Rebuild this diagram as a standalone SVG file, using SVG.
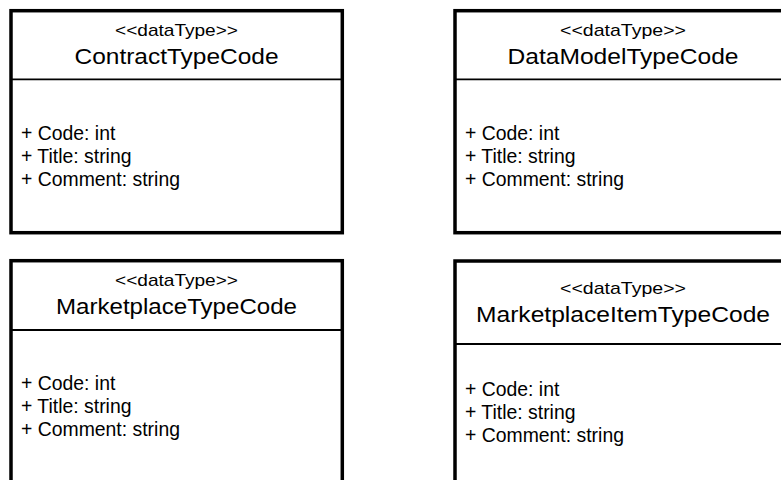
<svg xmlns="http://www.w3.org/2000/svg" width="781" height="480" viewBox="0 0 781 480">
<style>
.box{fill:#fff;stroke:#000;stroke-width:3.5}
.div{stroke:#000;stroke-width:1.8}
text{font-family:"Liberation Sans",Arial,sans-serif;fill:#000}
.st{font-size:17px;text-anchor:middle}
.ti{font-size:22px;text-anchor:middle}
.at{font-size:19.4px}
</style>
<rect width="781" height="480" fill="#fff"/>
<g id="ContractTypeCode">
<rect class="box" x="11" y="10.7" width="331.3" height="222"/>
<line class="div" x1="11" y1="79.3" x2="342.3" y2="79.3"/>
<text class="st" x="176.5" y="36" textLength="123" lengthAdjust="spacingAndGlyphs">&lt;&lt;dataType&gt;&gt;</text>
<text class="ti" x="176.5" y="64" textLength="204" lengthAdjust="spacingAndGlyphs">ContractTypeCode</text>
<text class="at" x="21" y="139.5">+ Code: int</text>
<text class="at" x="21" y="162.5">+ Title: string</text>
<text class="at" x="21" y="185.5">+ Comment: string</text>
</g>
<g id="DataModelTypeCode">
<rect class="box" x="455" y="10.7" width="340" height="222"/>
<line class="div" x1="455" y1="79.3" x2="795" y2="79.3"/>
<text class="st" x="623" y="36" textLength="126" lengthAdjust="spacingAndGlyphs">&lt;&lt;dataType&gt;&gt;</text>
<text class="ti" x="623" y="64" textLength="231" lengthAdjust="spacingAndGlyphs">DataModelTypeCode</text>
<text class="at" x="465" y="139.5">+ Code: int</text>
<text class="at" x="465" y="162.5">+ Title: string</text>
<text class="at" x="465" y="185.5">+ Comment: string</text>
</g>
<g id="MarketplaceTypeCode">
<rect class="box" x="11" y="260.7" width="331.3" height="240"/>
<line class="div" x1="11" y1="330" x2="342.3" y2="330"/>
<text class="st" x="176.5" y="286" textLength="123" lengthAdjust="spacingAndGlyphs">&lt;&lt;dataType&gt;&gt;</text>
<text class="ti" x="176.5" y="314" textLength="241" lengthAdjust="spacingAndGlyphs">MarketplaceTypeCode</text>
<text class="at" x="21" y="390">+ Code: int</text>
<text class="at" x="21" y="413">+ Title: string</text>
<text class="at" x="21" y="436">+ Comment: string</text>
</g>
<g id="MarketplaceItemTypeCode">
<rect class="box" x="455" y="261" width="340" height="240"/>
<line class="div" x1="455" y1="344" x2="795" y2="344"/>
<text class="st" x="623" y="294" textLength="126" lengthAdjust="spacingAndGlyphs">&lt;&lt;dataType&gt;&gt;</text>
<text class="ti" x="623" y="322" textLength="294" lengthAdjust="spacingAndGlyphs">MarketplaceItemTypeCode</text>
<text class="at" x="465" y="396">+ Code: int</text>
<text class="at" x="465" y="419">+ Title: string</text>
<text class="at" x="465" y="442">+ Comment: string</text>
</g>
<g id="connectors"/>
</svg>
